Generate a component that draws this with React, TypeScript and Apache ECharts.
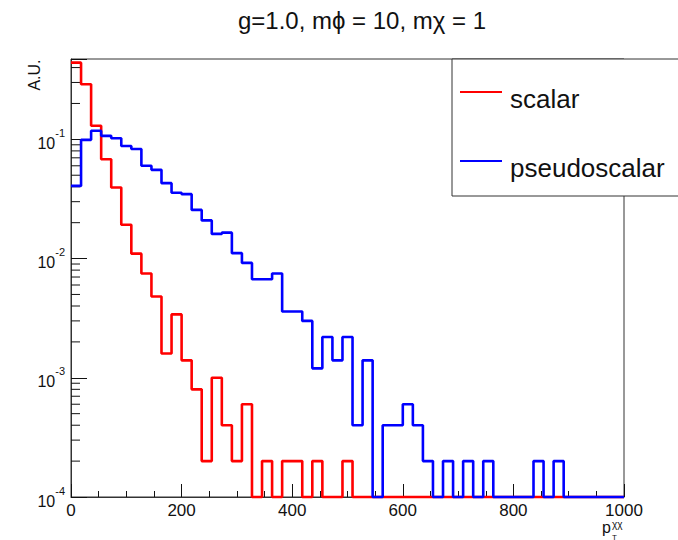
import React, { useEffect, useRef } from "react";
import * as echarts from "echarts";

// Histogram definition: 55 bins between 0 and 1000
const X_MIN = 0;
const X_MAX = 1000;
const N_BINS = 55;

// Bin contents (A.U.); 0 = empty bin
const scalarValues = [
  0.44, 0.29, 0.13, 0.068, 0.0394, 0.0192, 0.011, 0.0075, 0.0048, 0.0016,
  0.0034, 0.0014, 0.0008, 0.0002, 0.001, 0.0004, 0.0002, 0.0006, 0, 0.0002,
  0, 0.0002, 0.0002, 0, 0.0002, 0, 0, 0.0002, 0, 0,
  0, 0, 0, 0, 0, 0, 0, 0, 0, 0,
  0, 0, 0, 0, 0, 0, 0, 0, 0, 0,
  0, 0, 0, 0, 0,
];
const pseudoscalarValues = [
  0.0407, 0.099, 0.118, 0.107, 0.102, 0.088, 0.083, 0.06, 0.0555, 0.0429,
  0.0357, 0.0347, 0.0256, 0.0209, 0.0161, 0.0165, 0.0111, 0.0092, 0.0067, 0.0067,
  0.0075, 0.0036, 0.0036, 0.003, 0.0012, 0.0022, 0.0014, 0.0022, 0.0004, 0.0014,
  0, 0.0004, 0.0004, 0.0006, 0.0004, 0.0002, 0, 0.0002, 0, 0.0002,
  0, 0.0002, 0, 0, 0, 0, 0.0002, 0, 0.0002, 0,
  0, 0, 0, 0, 0,
];

const Y_MIN = 1e-4;
const Y_MAX = 0.472;
const xTickLabels = ["0", "200", "400", "600", "800", "1000"];
const yDecades = [-4, -3, -2, -1];

const seriesNames = ["scalar", "pseudoscalar"];
const seriesColors = ["#ff0000", "#0000ff"];

const FONT = "Liberation Sans, Arial, Helvetica, sans-serif";

function buildStepData(values: number[]) {
  const w = (X_MAX - X_MIN) / N_BINS;
  const pts: [number, number][] = values.map((v, i) => [X_MIN + i * w, v > 0 ? v : Y_MIN]);
  const last = values[values.length - 1];
  pts.push([X_MAX, last > 0 ? last : Y_MIN]);
  return pts;
}

function buildMinorTicks() {
  const ticks: number[] = [];
  for (let e = -4; e <= 0; e++) {
    for (let m = 2; m <= 9; m++) {
      const v = m * Math.pow(10, e);
      if (v < Y_MAX) ticks.push(v);
    }
  }
  return ticks;
}

export default function App() {
  const ref = useRef<HTMLDivElement>(null);
  useEffect(() => {
    if (!ref.current) return;
    const chart = echarts.init(ref.current, null, { renderer: "svg" });
    const axisColor = "#333";
    const minor = buildMinorTicks();
    const option: any = {
      animation: false,
      backgroundColor: "#ffffff",
      textStyle: { fontFamily: FONT },
      title: {
        text: "g=1.0, m\u03d5 = 10, m\u03c7 = 1",
        left: 357,
        top: 3,
        textAlign: "center",
        textStyle: { fontSize: 24, fontWeight: "normal", color: "#111", fontFamily: FONT },
      },
      grid: {
        left: 71,
        right: 54,
        top: 59,
        bottom: 43,
        show: true,
        borderColor: axisColor,
        borderWidth: 1,
        backgroundColor: "transparent",
      },
      xAxis: {
        type: "value",
        min: X_MIN,
        max: X_MAX,
        interval: 200,
        axisLine: { show: true, lineStyle: { color: axisColor, width: 1 } },
        axisTick: { show: true, inside: true, length: 13, lineStyle: { color: "#111" } },
        minorTick: { show: true, splitNumber: 4, length: 6, lineStyle: { color: "#111" } },
        splitLine: { show: false },
        axisLabel: {
          fontSize: 17,
          lineHeight: 15,
          color: "#111",
          margin: 6,
          fontFamily: FONT,
          formatter: (v: number) => {
            const idx = Math.round(v / 200);
            return xTickLabels[idx] ?? "";
          },
        },
      },
      yAxis: {
        type: "log",
        logBase: 10,
        min: Y_MIN,
        max: Y_MAX,
        axisLine: { show: true, lineStyle: { color: axisColor, width: 1 } },
        axisTick: { show: true, inside: true, length: 16, lineStyle: { color: "#111" } },
        splitLine: { show: false },
        axisLabel: {
          margin: 6,
          color: "#111",
          fontFamily: FONT,
          formatter: (v: number) => {
            const l = Math.log10(v);
            const e = Math.round(l);
            if (Math.abs(l - e) > 0.01 || yDecades.indexOf(e) < 0) return "";
            return "{b|10}{s|" + e + "}";
          },
          rich: {
            b: { fontSize: 16, color: "#111", fontFamily: FONT, verticalAlign: "bottom", lineHeight: 24 },
            s: { fontSize: 11, color: "#111", fontFamily: FONT, verticalAlign: "top", lineHeight: 24 },
          },
        },
      },
      series: [
        {
          type: "custom",
          silent: true,
          clip: false,
          data: minor.map((v) => [X_MIN, v]),
          renderItem: (_p: any, api: any) => {
            const pt = api.coord([api.value(0), api.value(1)]);
            return {
              type: "line",
              shape: { x1: pt[0], y1: pt[1], x2: pt[0] + 9, y2: pt[1] },
              style: { stroke: "#111", lineWidth: 1 },
            };
          },
          z: 1,
        },
        {
          name: seriesNames[0],
          type: "line",
          step: "end",
          showSymbol: false,
          clip: false,
          data: buildStepData(scalarValues),
          lineStyle: { color: seriesColors[0], width: 2.6 },
          itemStyle: { color: seriesColors[0] },
          z: 3,
        },
        {
          name: seriesNames[1],
          type: "line",
          step: "end",
          showSymbol: false,
          clip: false,
          data: buildStepData(pseudoscalarValues),
          lineStyle: { color: seriesColors[1], width: 2.6 },
          itemStyle: { color: seriesColors[1] },
          z: 4,
        },
      ],
      graphic: [
        {
          type: "text",
          x: 34,
          y: 75,
          rotation: Math.PI / 2,
          style: {
            text: "A.U.",
            fontSize: 16,
            fontFamily: FONT,
            fill: "#111",
            align: "center",
            verticalAlign: "middle",
          },
        },
        {
          type: "text",
          x: 602,
          y: 527,
          style: { text: "p", fontSize: 16, fontFamily: FONT, fill: "#111", align: "left", verticalAlign: "middle" },
        },
        {
          type: "text",
          x: 612,
          y: 524,
          style: { text: "\u03c7\u03c7", fontSize: 10, fontFamily: FONT, fill: "#111", align: "left", verticalAlign: "middle" },
        },
        {
          type: "text",
          x: 612,
          y: 537,
          style: { text: "T", fontSize: 8, fontFamily: FONT, fill: "#111", align: "left", verticalAlign: "middle" },
        },
        {
          type: "group",
          z: 100,
          children: [
            {
              type: "rect",
              shape: { x: 452, y: 59, width: 240, height: 137 },
              style: { fill: "#ffffff", stroke: axisColor, lineWidth: 1 },
            },
            {
              type: "line",
              shape: { x1: 460, y1: 92, x2: 502, y2: 92 },
              style: { stroke: seriesColors[0], lineWidth: 2 },
            },
            {
              type: "text",
              x: 510,
              y: 99,
              style: { text: seriesNames[0], fontSize: 26, fontFamily: FONT, fill: "#111", align: "left", verticalAlign: "middle" },
            },
            {
              type: "line",
              shape: { x1: 460, y1: 161, x2: 502, y2: 161 },
              style: { stroke: seriesColors[1], lineWidth: 2 },
            },
            {
              type: "text",
              x: 510,
              y: 168,
              style: { text: seriesNames[1], fontSize: 26, fontFamily: FONT, fill: "#111", align: "left", verticalAlign: "middle" },
            },
          ],
        },
      ],
    };
    chart.setOption(option);
    return () => chart.dispose();
  }, []);
  return (
    <div
      ref={ref}
      style={{ position: "fixed", left: 0, top: 0, width: 678, height: 540, background: "#fff" }}
    />
  );
}
